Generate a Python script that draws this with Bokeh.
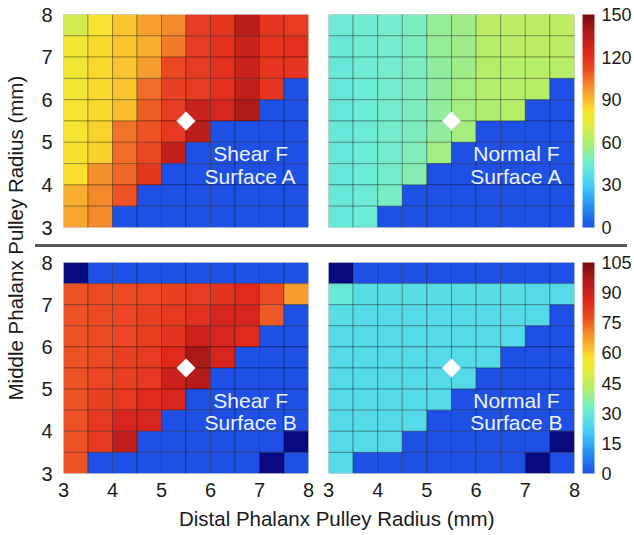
import numpy as np
from bokeh.plotting import figure
from bokeh.models import (ColumnDataSource, LinearColorMapper, ColorBar, FixedTicker,
                          Range1d, Label, Div)
from bokeh.layouts import row, column
from bokeh.embed import file_html
from bokeh.resources import INLINE

# ---------------- data ----------------
x_centers = [3.25, 3.75, 4.25, 4.75, 5.25, 5.75, 6.25, 6.75, 7.25, 7.75]
y_centers = [7.75, 7.25, 6.75, 6.25, 5.75, 5.25, 4.75, 4.25, 3.75, 3.25]  # rows top -> bottom
axis_ticks = [3, 4, 5, 6, 7, 8]
cbar_ticks_a = [0, 30, 60, 90, 120, 150]
cbar_ticks_b = [0, 15, 30, 45, 60, 75, 90, 105]
design_x = [5.5]
design_y = [5.5]
x_title = "Distal Phalanx Pulley Radius (mm)"
y_title = "Middle Phalanx Pulley Radius (mm)"

# 0 = infeasible (blue), -1 = invalid (navy)
shear_a = [
    [68, 80, 88, 95, 100, 116, 118, 134, 118, 116],
    [78, 84, 88, 93, 102, 116, 120, 130, 118, 120],
    [78, 84, 88, 96, 112, 116, 120, 130, 118, 118],
    [78, 84, 88, 105, 114, 116, 120, 132, 118, 0],
    [80, 84, 90, 108, 116, 130, 126, 138, 0, 0],
    [80, 85, 104, 110, 117, 134, 0, 0, 0, 0],
    [81, 86, 105, 112, 132, 0, 0, 0, 0, 0],
    [83, 99, 106, 118, 0, 0, 0, 0, 0, 0],
    [92, 100, 110, 0, 0, 0, 0, 0, 0, 0],
    [94, 100, 0, 0, 0, 0, 0, 0, 0, 0],
]
normal_a = [
    [44, 45, 46, 48, 54, 56, 63, 63, 63, 64],
    [43, 45, 46, 48, 54, 56, 62, 63, 63, 63],
    [42, 45, 46, 48, 53, 56, 62, 62, 62, 62],
    [42, 44, 46, 48, 53, 57, 61, 62, 62, 0],
    [42, 44, 46, 48, 53, 57, 60, 62, 0, 0],
    [42, 44, 46, 48, 53, 58, 0, 0, 0, 0],
    [42, 44, 46, 49, 57, 0, 0, 0, 0, 0],
    [42, 44, 46, 50, 0, 0, 0, 0, 0, 0],
    [42, 44, 47, 0, 0, 0, 0, 0, 0, 0],
    [42, 44, 0, 0, 0, 0, 0, 0, 0, 0],
]
shear_b = [
    [-1, 0, 0, 0, 0, 0, 0, 0, 0, 0],
    [77, 78, 78, 79, 80, 81, 83, 86, 78, 67],
    [77, 78, 79, 80, 82, 84, 88, 88, 76, 0],
    [77, 78, 79, 80, 83, 90, 88, 86, 0, 0],
    [77, 78, 80, 81, 86, 97, 88, 0, 0, 0],
    [77, 79, 80, 82, 91, 95, 0, 0, 0, 0],
    [77, 80, 82, 86, 88, 0, 0, 0, 0, 0],
    [77, 82, 88, 88, 0, 0, 0, 0, 0, 0],
    [77, 82, 93, 0, 0, 0, 0, 0, 0, -1],
    [77, 0, 0, 0, 0, 0, 0, 0, -1, 0],
]
normal_b = [
    [-1, 0, 0, 0, 0, 0, 0, 0, 0, 0],
    [30, 26, 26, 26, 26, 26, 26, 26, 25, 25],
    [26, 25, 25, 25, 25, 25, 25, 25, 25, 0],
    [25, 25, 25, 25, 25, 25, 25, 25, 0, 0],
    [25, 25, 25, 25, 25, 25, 25, 0, 0, 0],
    [25, 25, 25, 25, 25, 25, 0, 0, 0, 0],
    [25, 25, 25, 25, 25, 0, 0, 0, 0, 0],
    [25, 25, 25, 25, 0, 0, 0, 0, 0, 0],
    [25, 25, 25, 0, 0, 0, 0, 0, 0, -1],
    [25, 0, 0, 0, 0, 0, 0, 0, -1, 0],
]

# ---------------- style ----------------
FONT = "Liberation Sans"
TXT = "#1a1a1a"
NAVY = "#0a0a80"

stops = [(0.00, (30, 80, 230)), (0.10, (38, 145, 242)), (0.20, (68, 208, 245)),
         (0.30, (112, 236, 210)), (0.40, (175, 238, 110)), (0.50, (235, 235, 55)),
         (0.55, (250, 225, 45)), (0.65, (245, 150, 45)), (0.75, (235, 70, 35)),
         (0.82, (225, 40, 30)), (0.92, (175, 25, 25)), (1.00, (120, 15, 15))]


def make_palette(n=256):
    pos = np.array([s[0] for s in stops])
    cols = np.array([s[1] for s in stops], dtype=float)
    t = np.linspace(0, 1, n)
    out = []
    for ti in t:
        r = np.interp(ti, pos, cols[:, 0])
        g = np.interp(ti, pos, cols[:, 1])
        b = np.interp(ti, pos, cols[:, 2])
        out.append("#%02x%02x%02x" % (int(round(r)), int(round(g)), int(round(b))))
    return out


PAL = make_palette()
mapper_a = LinearColorMapper(palette=PAL, low=cbar_ticks_a[0], high=cbar_ticks_a[-1], low_color=NAVY)
mapper_b = LinearColorMapper(palette=PAL, low=cbar_ticks_b[0], high=cbar_ticks_b[-1], low_color=NAVY)


def build_source(matrix):
    xs, ys, vs = [], [], []
    for yi, yc in enumerate(y_centers):
        for xi, xc in enumerate(x_centers):
            xs.append(xc)
            ys.append(yc)
            vs.append(matrix[yi][xi])
    return ColumnDataSource(dict(x=xs, y=ys, v=vs))


def make_panel(matrix, mapper, line1, line2, is_left, is_top, cticks=None):
    fh = 213 if is_top else 211
    p = figure(frame_width=245 if is_left else 246, frame_height=fh,
               x_range=Range1d(axis_ticks[0], axis_ticks[-1]),
               y_range=Range1d(axis_ticks[0], axis_ticks[-1]),
               output_backend="svg", toolbar_location=None,
               min_border_left=33 if is_left else 10,
               min_border_right=10 if is_left else 0,
               min_border_top=14 if is_top else 12,
               min_border_bottom=13 if is_top else 25,
               background_fill_color="white", border_fill_color="white")
    cw = x_centers[1] - x_centers[0]
    ch = y_centers[0] - y_centers[1]
    p.rect(x="x", y="y", width=cw, height=ch, source=build_source(matrix),
           fill_color={"field": "v", "transform": mapper},
           line_color="black", line_alpha=0.3, line_width=1)
    p.scatter(x=design_x, y=design_y, marker="square", angle=np.pi / 4, size=13,
              fill_color="white", line_color="#e6e6e6", line_width=1)
    for txt, yy in ((line1, 4.74), (line2, 4.2)):
        p.add_layout(Label(x=6.82, y=yy, text=txt, text_align="center",
                           text_baseline="middle", text_font=FONT,
                           text_font_size="21px", text_color="#eef3ff"))
    p.xaxis.ticker = FixedTicker(ticks=axis_ticks)
    p.yaxis.ticker = FixedTicker(ticks=axis_ticks)
    p.axis.axis_line_color = None
    p.axis.major_tick_line_color = None
    p.axis.minor_tick_line_color = None
    p.axis.major_label_text_font = FONT
    p.axis.major_label_text_font_size = "20px"
    p.axis.major_label_text_color = TXT
    p.xaxis.major_label_standoff = 3
    p.yaxis.major_label_standoff = 5
    p.grid.visible = False
    p.outline_line_color = None
    if is_top:
        p.xaxis.visible = False
    if not is_left:
        p.yaxis.visible = False
    if cticks is not None:
        cb = ColorBar(color_mapper=mapper, ticker=FixedTicker(ticks=cticks),
                      width=12, height=fh, padding=0, margin=0, label_standoff=7,
                      location=(8, 0),
                      major_label_text_font=FONT, major_label_text_font_size="18px",
                      major_label_text_color=TXT, major_tick_line_color=None,
                      bar_line_color=None, background_fill_alpha=0)
        p.add_layout(cb, "right")
    return p


tl = make_panel(shear_a, mapper_a, "Shear F", "Surface A", True, True)
tr = make_panel(normal_a, mapper_a, "Normal F", "Surface A", False, True, cbar_ticks_a)
bl = make_panel(shear_b, mapper_b, "Shear F", "Surface B", True, False)
br = make_panel(normal_b, mapper_b, "Normal F", "Surface B", False, False, cbar_ticks_b)

sep = Div(text="", width=592, height=3, margin=(4, 0, 3, 5),
          styles={"background-color": "#585858"})

ytf = figure(width=30, height=490, x_range=Range1d(0, 1), y_range=Range1d(0, 1),
             x_axis_type=None, y_axis_type=None, min_border=0,
             output_backend="svg", toolbar_location=None)
ytf.outline_line_color = None
ytf.grid.visible = False
ytf.add_layout(Label(x=0.5, y=0.515, text=y_title, angle=np.pi / 2, text_align="center",
                     text_baseline="middle", text_font=FONT, text_font_size="20.5px",
                     text_color=TXT))

xtf = figure(width=604, height=35, x_range=Range1d(0, 1), y_range=Range1d(0, 1),
             x_axis_type=None, y_axis_type=None, min_border=0,
             output_backend="svg", toolbar_location=None)
xtf.outline_line_color = None
xtf.grid.visible = False
xtf.add_layout(Label(x=0.507, y=0.45, text=x_title, text_align="center",
                     text_baseline="middle", text_font=FONT, text_font_size="20.5px",
                     text_color=TXT))

layout = row(ytf, column(row(tl, tr), sep, row(bl, br), xtf))

with open("out.html", "w") as f:
    f.write(file_html(layout, INLINE))
